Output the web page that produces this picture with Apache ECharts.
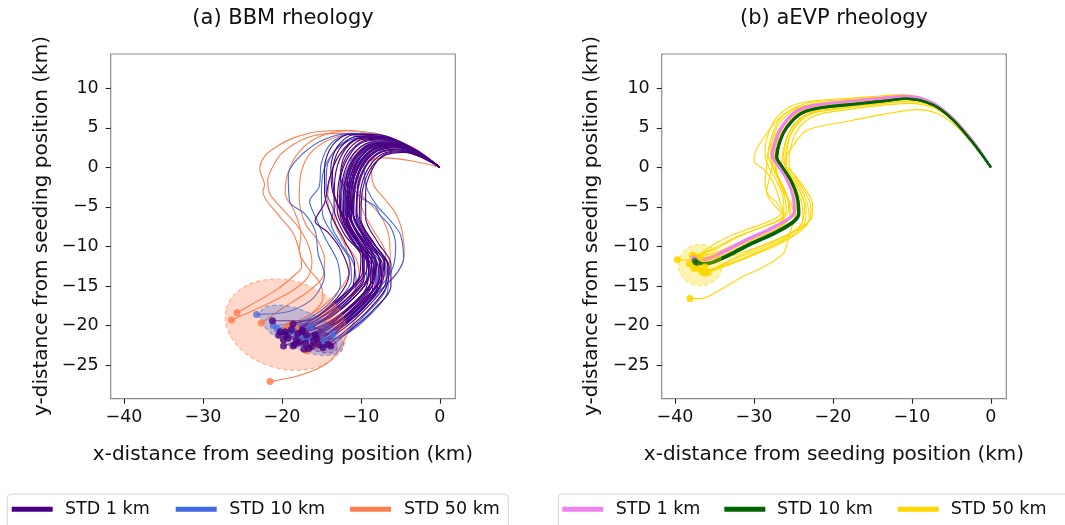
<!DOCTYPE html>
<html>
<head>
<meta charset="utf-8">
<script src="https://cdn.jsdelivr.net/npm/echarts@6/dist/echarts.min.js"></script>
<style>
  html, body { margin: 0; padding: 0; background: #ffffff; }
  #chart { width: 1065px; height: 525px; }
</style>
</head>
<body>
<div id="chart"></div>
<script>
// Axis ticks and extents (km), shared by both panels (equal aspect)
const xTicks = [-40, -30, -20, -10, 0];
const yTicks = [-25, -20, -15, -10, -5, 0, 5, 10];
const xRange = [-41.68, 1.95];
const yRange = [-29.26, 14.34];

const panelTitles = ['(a) BBM rheology', '(b) aEVP rheology'];
const xName = 'x-distance from seeding position (km)';
const yName = 'y-distance from seeding position (km)';
const ensembleNames = ['STD 1 km', 'STD 10 km', 'STD 50 km'];

// BBM drift trajectories, STD 1 km perturbations
const bbmStd1 = [
  [[0,0],[-2.5,1.6],[-5.5,2.8],[-8.2,2.3],[-10,0.5],[-11.2,-2.5],[-11.4,-6],[-9.6,-9.5],[-8,-12],[-8.6,-14.5],[-11.5,-17.8],[-15,-20.6],[-17.8,-22.2]],
  [[0,0],[-2.8,1.9],[-6.2,3.2],[-9,2.8],[-10.9,1],[-12,-2],[-12.2,-5.8],[-10.8,-9],[-9,-11.8],[-9.2,-14.2],[-12,-17.5],[-15.8,-20],[-19.5,-21.2]],
  [[0,0],[-2.4,1.4],[-5,2.3],[-7.5,2],[-9.3,0.4],[-10.4,-2.3],[-10.5,-5.7],[-8.9,-9],[-7,-11.8],[-7.2,-14.3],[-10,-17.6],[-13.5,-20.5],[-16.2,-22.6]],
  [[0,0],[-3,2],[-6.8,3.6],[-9.8,3.3],[-11.8,1.4],[-12.8,-1.8],[-13,-5.5],[-11.5,-8.8],[-9.6,-11.5],[-9.6,-14],[-12.5,-17.2],[-16.5,-19.8],[-20.2,-20.8]],
  [[0,0],[-2.6,1.7],[-5.8,2.9],[-8.6,2.5],[-10.5,0.8],[-11.6,-2.2],[-11.9,-5.9],[-10.3,-9.3],[-8.4,-12.2],[-8.2,-14.8],[-10.8,-18.2],[-14.2,-21],[-16.6,-22.9]],
  [[0,0],[-2.2,1.3],[-4.8,2.1],[-7.3,1.7],[-9,0],[-10,-2.6],[-10.2,-6.2],[-8.4,-9.6],[-6.6,-12.4],[-7,-15],[-9.8,-18.3],[-13,-21],[-15.4,-22.4]],
  [[0,0],[-3.2,2.2],[-7.3,3.9],[-10.3,3.7],[-12.3,1.8],[-13.3,-1.5],[-13.4,-5.2],[-12,-8.6],[-10,-11.2],[-10.2,-13.8],[-13,-16.8],[-16.8,-19.4],[-21.2,-19.4]],
  [[0,0],[-2.7,1.8],[-6,3],[-8.8,2.6],[-10.6,0.9],[-11.7,-2],[-11.7,-6.2],[-9.8,-9.8],[-7.8,-12.6],[-7.9,-15.2],[-10.6,-18.6],[-14,-21.4],[-17.2,-23]],
  [[0,0],[-2.3,1.5],[-5.2,2.5],[-7.8,2.1],[-9.6,0.4],[-10.8,-2.4],[-11.1,-5.4],[-9.9,-8.4],[-8.6,-11],[-8.9,-13.6],[-11.6,-16.8],[-15,-19.3],[-18.8,-20.5]],
  [[0,0],[-2.9,2],[-6.5,3.4],[-9.4,3],[-11.3,1.2],[-12.4,-1.9],[-12.6,-6],[-11,-9.4],[-9,-12],[-8.8,-14.6],[-11.2,-18],[-14.8,-20.6],[-18.2,-21.8]],
  [[0,0],[-2.5,1.6],[-5.6,2.7],[-8.3,2.3],[-10.1,0.6],[-11.1,-2.6],[-11.2,-6.4],[-9.2,-9.7],[-7.3,-12.2],[-7.5,-14.9],[-9.8,-18],[-12.8,-20.6],[-14.8,-22.8]],
  [[0,0],[-2.6,1.7],[-5.9,2.9],[-8.7,2.5],[-10.4,0.7],[-11.4,-2.3],[-11.8,-5.3],[-10.6,-8.2],[-9.1,-10.9],[-9.4,-13.4],[-12.4,-16.6],[-16,-19.2],[-19.8,-21.8]],
  [[0,0],[-2.4,1.5],[-5.3,2.6],[-7.9,2.2],[-9.7,0.5],[-10.7,-2.5],[-10.9,-6.1],[-9,-9.4],[-7.1,-12],[-7.6,-14.5],[-10.4,-17.5],[-13.8,-20],[-16.9,-21.2]],
  [[0,0],[-3,2.1],[-7,3.7],[-10,3.5],[-12,1.6],[-12.6,-1.2],[-11.6,-3.6],[-11.3,-6.4],[-9.7,-9.6],[-8.1,-12.4],[-8.6,-15],[-11.8,-18.2],[-16,-21.5],[-18.6,-22.6]],
  [[0,0],[-2.5,1.7],[-5.7,2.8],[-8.4,2.4],[-10.2,0.6],[-11.3,-2.1],[-11.6,-5.6],[-10,-8.8],[-8.2,-11.5],[-8.4,-14],[-11,-17.2],[-14.5,-19.8],[-17.5,-20.8]],
  [[0,0],[-2.1,1.2],[-4.6,1.9],[-7,1.5],[-8.8,-0.2],[-9.8,-2.9],[-10,-6.5],[-8.2,-9.8],[-6.4,-12.6],[-6.9,-15.4],[-9.6,-18.6],[-12.6,-21.2],[-14.2,-22.4]],
  [[0,0],[-2.8,1.9],[-6.3,3.2],[-9.1,2.9],[-11,1],[-12.1,-2.2],[-12.3,-6.3],[-10.6,-9.9],[-8.6,-12.5],[-8.5,-15.2],[-11,-18.6],[-14.2,-21.2],[-16,-22]],
  [[0,0],[-2.6,1.8],[-5.8,3],[-8.6,2.6],[-10.4,0.8],[-11.5,-2.3],[-11.3,-5],[-11.9,-6.8],[-10.5,-9.4],[-8.7,-11.9],[-8.7,-14.4],[-11.2,-17.4],[-14.8,-20.1],[-18,-21]],
  [[0,0],[-3,2],[-7,3.8],[-10.5,3.6],[-12.8,1.5],[-14,-1.5],[-14.6,-4.5],[-15.8,-6.8],[-14.2,-8.2],[-12.5,-10.5],[-11.5,-13.5],[-13,-16.5],[-16.5,-19.5],[-19.6,-20.8]],
  [[0,0],[-2.7,1.8],[-6.1,3.1],[-9,2.7],[-10.8,0.9],[-11.8,-2],[-12,-5.4],[-10.8,-8.6],[-9.2,-11.4],[-9,-13.8],[-11,-16.6],[-14,-19],[-17.4,-20.6]],
  [[0,0],[-2.5,1.7],[-5.6,2.8],[-8.3,2.4],[-10,0.6],[-11,-2.2],[-11,-5.6],[-9.4,-8.8],[-7.6,-11.6],[-7.4,-14.2],[-9.4,-17.4],[-12.4,-20],[-15.6,-21.6]],
  [[0,0],[-2.9,2],[-6.6,3.5],[-9.7,3.2],[-11.6,1.3],[-12.6,-1.6],[-12.7,-5.2],[-11.4,-8.2],[-9.8,-10.8],[-9.8,-13.2],[-12.2,-16.2],[-15.4,-18.8],[-18.6,-19.8]],
  [[0,0],[-2.4,1.5],[-5.4,2.6],[-8,2.2],[-9.8,0.5],[-10.8,-2.3],[-11,-5.8],[-9.4,-9.2],[-7.5,-12],[-7.8,-14.6],[-10.6,-17.6],[-14,-20.4],[-17,-22.2]],
  [[0,0],[-2.6,1.7],[-5.8,2.9],[-8.6,2.5],[-10.5,0.7],[-11.6,-2.4],[-11.8,-6.1],[-10.2,-9.6],[-8.4,-12.4],[-8.6,-15],[-11.4,-18.4],[-15,-21],[-18.4,-22.4]],
  [[0,0],[-3.1,2.1],[-7.2,3.9],[-11,4.1],[-13,2.6],[-13.8,0],[-13.6,-3],[-12.4,-6],[-10.8,-8.8],[-9.6,-11.6],[-9.9,-14.4],[-12.8,-17.6],[-16.4,-20.4],[-19.2,-21.6]],
  [[0,0],[-2.3,1.3],[-5.1,2.2],[-7.7,1.8],[-9.4,0.1],[-10.4,-2.7],[-10.6,-6],[-9.2,-8.8],[-7.8,-11.2],[-7.6,-13.8],[-9.6,-16.8],[-12.8,-19.6],[-15.8,-21.2]],
  [[0,0],[-3.2,2.3],[-7.5,4.1],[-11.4,4.2],[-13.6,2.8],[-14.6,0],[-14.6,-3.2],[-13.6,-6.4],[-12,-9.4],[-10.8,-12.2],[-11,-15],[-13.8,-18],[-17.6,-20.4],[-20.4,-21.2]],
  [[0,0],[-2.2,1.2],[-4.7,2],[-7.1,1.6],[-8.6,-0.3],[-9.4,-3],[-9.4,-6.4],[-7.8,-9.6],[-6.2,-12.2],[-6.2,-15],[-8.6,-18.2],[-11.6,-20.8],[-13.8,-22.6]],
  [[0,0],[-3,2.1],[-7,3.8],[-10.6,3.9],[-12.8,2.2],[-13.6,-0.8],[-13.2,-4],[-11.6,-7.2],[-10,-10.2],[-9,-13],[-9.6,-15.8],[-12.6,-18.8],[-16.8,-21.4],[-19.8,-22.6]]
];

// BBM drift trajectories, STD 10 km perturbations
const bbmStd10 = [
  [[0,0],[-3,2.2],[-7,4],[-11,4.3],[-14.5,3.6],[-17.5,1.6],[-19.2,-1],[-19,-4.4],[-17.2,-5.8],[-15.8,-8],[-15.4,-11],[-14.6,-13.6],[-16,-16.5],[-19,-18.2],[-23.2,-18.6]],
  [[0,0],[-2.5,1.5],[-5.5,2.5],[-8,2.1],[-9.6,0.2],[-9.3,-2.5],[-8,-4.8],[-6.2,-6.8],[-5,-8.5],[-4.6,-11.5],[-5.6,-13.6],[-8,-16],[-11,-18.8],[-13.6,-21.2]],
  [[0,0],[-2.8,2],[-6.5,3.6],[-10,3.8],[-12.8,2.6],[-14.6,0],[-15,-3.2],[-14.8,-6.2],[-13.2,-9],[-11.5,-11.5],[-11.2,-14.2],[-13.4,-17.2],[-17,-19.6],[-20.6,-20.4]],
  [[0,0],[-2.6,1.7],[-5.9,3],[-8.8,2.7],[-10.8,0.9],[-11.9,-2.1],[-12.1,-5.9],[-10.4,-9.3],[-8.2,-12.3],[-8,-14.9],[-10.6,-18.3],[-14,-20.9],[-16.8,-21.6]],
  [[0,0],[-2.4,1.5],[-5.3,2.6],[-7.9,2.2],[-9.8,0.4],[-10.9,-2.6],[-11,-6.2],[-9.1,-9.4],[-6.9,-12.2],[-6.8,-15],[-9.4,-18.6],[-12.6,-21.4],[-15,-22.6]],
  [[0,0],[-3.1,2.2],[-7.2,4],[-11.5,4.2],[-13.8,3],[-15,0.6],[-15.3,-2.5],[-16.5,-4.3],[-15.7,-6.4],[-14.5,-9],[-13,-11.8],[-12.6,-14.8],[-14.3,-17.5],[-17.8,-19.6],[-21.1,-20]],
  [[0,0],[-2.7,1.8],[-6,3.1],[-9,2.8],[-11,1.1],[-12.2,-1.8],[-12.5,-5.5],[-11,-9],[-9.3,-11.6],[-9.3,-14.2],[-12,-17.4],[-15.6,-19.8],[-18.6,-20.6]],
  [[0,0],[-2.3,1.4],[-5,2.3],[-7.5,1.9],[-9.3,0.2],[-10.3,-2.6],[-10.6,-6.3],[-8.6,-9.8],[-6.5,-12.6],[-6.6,-15.6],[-9,-18.8],[-12.4,-21.4],[-14.6,-21.8]],
  [[0,0],[-3,2.1],[-6.8,3.8],[-10.4,3.9],[-13,2.5],[-14.3,0],[-14.4,-3],[-13.5,-5.5],[-13.8,-7],[-12.6,-9.5],[-11,-12],[-10.6,-14.8],[-12.6,-17.8],[-16.6,-20.2],[-19.4,-20.9]],
  [[0,0],[-2.5,1.6],[-5.6,2.8],[-8.4,2.4],[-10.3,0.6],[-11.3,-2.4],[-11.5,-6],[-9.8,-9.4],[-7.6,-12],[-7.4,-14.8],[-10,-18],[-13.4,-20.6],[-17.2,-21.4]],
  [[0,0],[-2.7,1.9],[-6.2,3.3],[-9.3,3],[-11.2,1.2],[-11.4,-1.5],[-10,-3.8],[-8.2,-4.9],[-7.6,-6],[-6.2,-7.6],[-5.6,-10],[-6,-12.8],[-7.8,-15.4],[-10.8,-18.2],[-14.6,-20.4],[-18,-21.4]],
  [[0,0],[-2.6,1.6],[-5.7,2.7],[-8.5,2.3],[-10.2,0.4],[-11.2,-2.6],[-11.3,-6.4],[-9.5,-9.9],[-7.8,-12.5],[-8,-15.4],[-10.5,-18.6],[-13.4,-20.6],[-16.4,-20.2]]
];

// BBM drift trajectories, STD 50 km perturbations
const bbmStd50 = [
  [[0,0],[-4.2,2.6],[-9.3,4.3],[-11.8,4.7],[-15.6,4.5],[-18.6,3.7],[-20.7,2.6],[-22.2,1.4],[-22.8,-0.3],[-22.2,-2.2],[-22.4,-3.1],[-20.3,-6.2],[-18.6,-8.3],[-17.7,-10.9],[-17.5,-12.6],[-18.6,-13.8],[-20.7,-15.5],[-23.6,-17.2],[-25.7,-18.4]],
  [[0,0],[-4,2.4],[-9,4],[-12.5,4.3],[-16,4],[-18.4,3],[-20.2,1.6],[-21.2,0],[-21.8,-1.6],[-21.5,-3.4],[-20,-5.2],[-18.2,-7.2],[-16.8,-9.5],[-16.2,-12],[-16.8,-14],[-19,-15.8],[-22.5,-17.6],[-26.4,-19.3]],
  [[0,0],[-3,1.8],[-6.5,3],[-9.5,2.6],[-11,0.9],[-11,-1.5],[-9.8,-3.6],[-7.6,-6],[-6.4,-9],[-6.3,-11.6],[-7.4,-14.2],[-9.4,-17],[-11.5,-20.6],[-12.8,-23.1],[-14.3,-24.8],[-17.7,-26.3],[-21.5,-27.1]],
  [[0,0],[-2.2,1.3],[-5,2.4],[-7.5,2],[-8.7,0.4],[-8.4,-2.2],[-7,-4],[-5.6,-5.8],[-4.8,-8],[-4.5,-11],[-5.2,-13],[-7,-15],[-9.6,-17.6],[-12.6,-20.2],[-15.4,-22.8],[-16.8,-23.2]],
  [[0,0],[-3,2.2],[-7,3.8],[-11,4.2],[-14,3.5],[-16.4,1.8],[-17.6,-0.8],[-17.8,-4],[-17,-7.2],[-15.5,-9.2],[-14.6,-11.6],[-14.8,-13.8],[-16.8,-15.8],[-19.6,-17.6],[-22.6,-19.7]],
  [[0,0],[-2.6,1.8],[-6,3.1],[-9,2.9],[-11,1.2],[-12.3,-1.8],[-12.8,-5.4],[-11.6,-8.6],[-9.8,-11.4],[-9.6,-14],[-11.8,-17],[-14.5,-19.6],[-17.4,-21]],
  [[0,0],[-2.9,1.9],[-6.8,3.5],[-10.2,3.5],[-12.4,2],[-13.8,-0.8],[-14.2,-4.2],[-13.2,-7.4],[-11.8,-10.4],[-11.4,-13],[-12.8,-15.6],[-15.4,-18],[-19.4,-20.2]],
  [[0,0],[-3.2,2.4],[-7.6,4.2],[-12,4.6],[-15.4,3.8],[-17.8,2],[-19.2,-0.6],[-19.6,-3.2],[-18.4,-5.6],[-17.6,-8.4],[-17.8,-10.6],[-16.8,-12.6],[-15.2,-14.6],[-14.8,-16.6],[-16.4,-18.6],[-18.8,-19.8]],
  [[0,0],[-2.4,1.4],[-5.3,2.5],[-8,2.1],[-9.8,0.4],[-10.4,-2.4],[-9.8,-5.4],[-8.4,-8],[-7,-10.4],[-6.8,-13],[-8.4,-15.6],[-11,-18.2],[-13.8,-20.8],[-15.6,-22.4]],
  [[0,0],[-3.5,0.8],[-7,1.2],[-9.5,0.6],[-11.4,-0.8],[-12.6,-3],[-13.4,-6],[-12.4,-9],[-10.6,-11.6],[-10.2,-14.2],[-12,-16.8],[-15,-19],[-18.2,-20.4]]
];

// aEVP drift trajectories, STD 1 km perturbations
const evpStd1 = [
  [[0,0],[-2.15,3.15],[-4.8,6.2],[-7.4,8.2],[-10.8,9],[-13.75,8.75],[-17.95,8.35],[-22.3,7.85],[-24.55,7.15],[-26.3,5.4],[-27.2,3.65],[-27.7,1.45],[-27,0.25],[-25.9,-1.45],[-25.1,-3.55],[-24.9,-5.6],[-25.7,-6.55],[-28.1,-7.85],[-31,-9.15],[-33.1,-10.25],[-35.6,-11.45],[-37,-11.65],[-37.65,-11.5]],
  [[0,0],[-2.1,3.1],[-4.75,6.15],[-7.35,8.15],[-10.75,8.95],[-13.7,8.7],[-17.9,8.3],[-22.25,7.8],[-24.45,7.1],[-26.2,5.35],[-27.1,3.6],[-27.6,1.4],[-26.9,0.2],[-25.8,-1.5],[-25,-3.6],[-24.8,-5.65],[-25.6,-6.6],[-28,-7.95],[-30.9,-9.25],[-33,-10.35],[-35.5,-11.55],[-36.95,-11.75],[-37.55,-11.55]],
  [[0,0],[-2.15,3.2],[-4.85,6.25],[-7.45,8.25],[-10.85,9.05],[-13.8,8.8],[-18,8.4],[-22.35,7.9],[-24.6,7.2],[-26.35,5.45],[-27.25,3.7],[-27.75,1.5],[-27.05,0.3],[-25.95,-1.4],[-25.15,-3.5],[-24.95,-5.55],[-25.75,-6.5],[-28.15,-7.8],[-31.05,-9.1],[-33.15,-10.2],[-35.65,-11.4],[-37.05,-11.6],[-37.4,-11.75]]
];

// aEVP drift trajectories, STD 10 km perturbations
const evpStd10 = [
  [[0,0],[-2.2,3.0],[-4.8,6.0],[-7.3,7.9],[-10.7,8.7],[-13.6,8.4],[-17.8,8.0],[-22.1,7.5],[-24.2,6.8],[-25.9,5.1],[-26.7,3.5],[-27.2,1.3],[-26.5,0.1],[-25.4,-1.6],[-24.6,-3.7],[-24.4,-5.8],[-25.2,-6.9],[-27.6,-8.3],[-30.5,-9.6],[-32.6,-10.7],[-35.2,-11.9],[-36.8,-12.1],[-37.5,-11.8]],
  [[0,0],[-2.15,2.95],[-4.75,5.95],[-7.25,7.85],[-10.65,8.65],[-13.55,8.35],[-17.75,7.9],[-22.05,7.4],[-24.1,6.7],[-25.8,5.0],[-26.6,3.4],[-27.05,1.25],[-26.35,0.05],[-25.25,-1.7],[-24.45,-3.8],[-24.25,-5.9],[-25.05,-7.05],[-27.45,-8.45],[-30.35,-9.75],[-32.45,-10.85],[-35.1,-12.05],[-36.7,-12.25],[-37.2,-12.1]],
  [[0,0],[-2.2,3.0],[-4.8,6.0],[-7.3,7.9],[-10.7,8.7],[-13.6,8.4],[-17.8,7.95],[-22.1,7.45],[-24.2,6.75],[-25.85,5.05],[-26.65,3.45],[-27.1,1.3],[-26.4,0.1],[-25.3,-1.65],[-24.5,-3.75],[-24.3,-5.85],[-25.1,-7],[-27.5,-8.4],[-30.4,-9.7],[-32.5,-10.8],[-35.15,-12],[-36.75,-12.2],[-37.4,-12]]
];

// aEVP drift trajectories, STD 50 km perturbations
const evpStd50 = [
  [[0,0],[-2,2.6],[-4.4,5.2],[-6.8,6.8],[-9.4,7.3],[-13.6,6.7],[-18.3,5.8],[-23.3,4.7],[-25,2.8],[-26.1,0.7],[-25.6,-1],[-24.2,-3],[-23.6,-5],[-24.2,-7.5],[-26.6,-9],[-29.4,-10.4],[-32.4,-11.6],[-35,-12.8],[-36.4,-13.1]],
  [[0,0],[-2.3,3.1],[-5,6.2],[-7.6,8.1],[-11,8.9],[-14,8.7],[-18,8.4],[-22,8.1],[-25,7.4],[-27,6],[-28.6,4],[-29.8,2],[-30,0.8],[-28.8,-0.2],[-27.6,-1.8],[-26.8,-4],[-26.2,-6],[-27.2,-7.4],[-29.6,-8.6],[-32.6,-9.8],[-35.6,-11],[-37.7,-11.1]],
  [[0,0],[-2.2,3.1],[-4.9,6.1],[-7.4,8],[-10.8,8.8],[-13.8,8.5],[-18,8.2],[-22.4,7.8],[-24.8,6.9],[-26.6,5],[-27.4,2.8],[-27.6,0.6],[-28,-1.2],[-28.4,-3.2],[-27.4,-4.8],[-26.2,-6.4],[-27.2,-8],[-30,-9.4],[-33,-10.8],[-36.2,-11.6],[-39.7,-11.7]],
  [[0,0],[-2.1,2.9],[-4.7,5.9],[-7.2,7.8],[-10.6,8.6],[-13.5,8.3],[-17.6,7.9],[-21.8,7.3],[-23.8,6.4],[-25.4,4.6],[-26.1,2.6],[-26.3,0.8],[-25,-0.8],[-23.6,-2.6],[-22.6,-4.6],[-22.6,-6.2],[-23.8,-7.4],[-26.4,-8.8],[-29.6,-10.2],[-32.8,-11.6],[-35.8,-13.3]],
  [[0,0],[-2.2,3],[-4.8,6],[-7.3,7.9],[-10.7,8.7],[-13.8,8.5],[-18,8.1],[-22.2,7.6],[-24.4,6.8],[-26,4.8],[-26.8,2.8],[-27,0.9],[-26,-0.8],[-25,-2.8],[-24.6,-5],[-25,-7],[-25.4,-8.1],[-25.7,-9.2],[-26.3,-10.9],[-28.8,-12.6],[-31.4,-13.8],[-34.3,-15.5],[-36.8,-16.6],[-38.1,-16.6]],
  [[0,0],[-2.4,3.2],[-5.1,6.4],[-7.6,8.3],[-11,9.1],[-14,8.9],[-18,8.6],[-22.2,8.3],[-24.8,7.6],[-26.8,6],[-27.8,3.8],[-28.2,1.6],[-27.6,0],[-26.6,-1.8],[-25.8,-3.6],[-25.6,-5.4],[-26.6,-6.6],[-29,-7.6],[-31.8,-8.6],[-34.2,-9.8],[-36.4,-10.8],[-37.8,-11.1]],
  [[0,0],[-2,2.7],[-4.5,5.6],[-7,7.4],[-10.4,8.1],[-13.4,7.9],[-17.4,7.4],[-21.4,6.8],[-23.4,5.9],[-24.8,4.2],[-25.4,2.2],[-25.6,0.4],[-24.8,-1.2],[-23.6,-3],[-22.8,-5],[-22.9,-6.6],[-24.2,-7.8],[-26.8,-9],[-29.8,-10.2],[-32.8,-11.2],[-35.4,-12.2],[-36.2,-12.6]],
  [[0,0],[-2.2,3],[-4.8,6],[-7.3,7.9],[-10.7,8.7],[-13.6,8.5],[-17.8,8.2],[-22.1,7.9],[-24.6,7.4],[-26.6,5.8],[-27.6,3.8],[-27.9,1.8],[-27.6,0.2],[-26.9,-1.4],[-26.2,-3.4],[-25.9,-5.4],[-26.8,-6.6],[-29.4,-7.7],[-32.2,-8.9],[-34.8,-10.3],[-37,-11.2],[-38.2,-12.2]],
  [[0,0],[-2.2,3],[-4.8,6.1],[-7.4,8],[-10.8,8.8],[-13.8,8.5],[-18,8.2],[-22.2,7.7],[-24.4,7],[-26.2,5.3],[-27,3.4],[-27.4,1.2],[-27.2,-0.6],[-26.6,-2.4],[-25.6,-4.2],[-25.4,-6],[-26.2,-7.2],[-28.4,-8.4],[-31.4,-9.6],[-34.2,-10.8],[-36.6,-11.6],[-37.9,-12.2]],
  [[0,0],[-2.2,3.1],[-4.8,6.1],[-7.3,8],[-10.6,8.8],[-13.7,8.6],[-18,8.3],[-22,7.9],[-24.4,7.2],[-26,5.8],[-27.4,4],[-28.2,2],[-28.4,0],[-28.6,-2],[-28.2,-3.4],[-27,-4.6],[-26.2,-6.4],[-26.8,-7.8],[-29,-9],[-32,-10.2],[-35,-11.2],[-36.8,-11.4]],
  [[0,0],[-2.1,2.9],[-4.6,5.8],[-7.1,7.6],[-10.5,8.3],[-13.5,8.1],[-17.6,7.7],[-21.7,7.1],[-23.7,6.2],[-25.2,4.4],[-25.9,2.4],[-26.1,0.5],[-25.2,-1],[-24,-2.8],[-23.2,-4.8],[-23,-6.6],[-24,-8],[-26.6,-9.6],[-29.8,-11],[-32.8,-12.2],[-35.6,-13],[-37,-12.8]],
  [[0,0],[-2.3,3.1],[-5,6.1],[-7.5,8],[-11,8.8],[-14,8.5],[-18.2,8.2],[-22.4,7.8],[-24.6,7],[-26.4,5.2],[-27.2,3.2],[-27.8,1],[-27.4,-0.6],[-26.4,-2.4],[-25.6,-4.4],[-25.4,-6.2],[-26.4,-7.4],[-28.8,-8.6],[-31.6,-9.8],[-34.4,-11],[-36.8,-12.4],[-37.6,-12.8]],
  [[0,0],[-2.2,3],[-4.8,6],[-7.3,7.9],[-10.7,8.6],[-13.6,8.2],[-17.8,7.7],[-22,7.1],[-24,6.3],[-25.5,4.6],[-26.2,2.6],[-26.5,0.6],[-25.7,-0.9],[-24.6,-2.8],[-23.9,-4.8],[-23.8,-6.6],[-24.8,-8],[-27.2,-9.6],[-30.2,-11],[-33.2,-12.2],[-35.8,-13],[-36.6,-13.2]],
  [[0,0],[-2.2,3.1],[-4.9,6.1],[-7.4,8],[-10.8,8.8],[-13.7,8.5],[-17.9,8.1],[-22.2,7.6],[-24.3,6.9],[-26,5.2],[-26.9,3.4],[-27.3,1.2],[-27,-1],[-26.2,-3],[-25.2,-4.8],[-24.9,-6.4],[-25.8,-7.6],[-28.2,-8.8],[-31.2,-10],[-34,-11.2],[-36.6,-12],[-37.4,-12.2]],
  [[0,0],[-2.3,3.3],[-5,6.5],[-7.7,8.4],[-11.2,9.2],[-14.3,9],[-18.4,8.7],[-22.6,8.4],[-25.2,7.8],[-27.2,6.2],[-28.2,4.2],[-28.6,2],[-28.2,0.2],[-27.2,-1.6],[-26.4,-3.4],[-26.2,-5.2],[-27.2,-6.4],[-29.6,-7.4],[-32.4,-8.4],[-34.8,-9.6],[-36.6,-10.8],[-37.2,-11.4]],
  [[0,0],[-2.1,2.9],[-4.7,5.9],[-7.2,7.7],[-10.6,8.4],[-13.6,8.1],[-17.7,7.6],[-21.9,7],[-23.9,6.1],[-25.3,4.3],[-25.8,2.2],[-25.9,0],[-25,-1.6],[-24,-3.4],[-23.4,-5.4],[-23.6,-7],[-24.8,-8.4],[-27.4,-9.8],[-30.4,-11.2],[-33.4,-12.4],[-35.6,-13.2],[-36.2,-13.4]]
];

// Spread ellipses of final positions: [centre x, centre y, semi-axis x, semi-axis y, angle deg]
const bbmSpread1 = [[-16.3, -21.5, 3.6, 1.4, -25]];
const bbmSpread10 = [[-17.5, -20.6, 5.7, 2.4, -24]];
const bbmSpread50 = [[-19.5, -19.9, 7.8, 5.6, -15]];
const evpSpread1 = [[-37.3, -11.9, 0.4, 0.3, 0]];
const evpSpread10 = [[-37.2, -12.0, 0.5, 0.35, 0]];
const evpSpread50 = [[-36.8, -12.35, 2.75, 2.6, 0]];

const colors = {
  bbm1: '#4B0082', bbm10: '#4169E1', bbm50: '#FF7F50',
  evp1: '#EE82EE', evp10: '#006400', evp50: '#FFD700'
};

const FONT = 'DejaVu Sans';
const TEXT = '#111111';

function rgba(hex, a) {
  const n = parseInt(hex.slice(1), 16);
  return 'rgba(' + ((n >> 16) & 255) + ',' + ((n >> 8) & 255) + ',' + (n & 255) + ',' + a + ')';
}
function fmt(v) { return (v < 0 ? '\u2212' : '') + Math.abs(v); }

const chart = echarts.init(document.getElementById('chart'), null, { renderer: 'canvas' });

const grids = [
  { left: 110.7, top: 54, width: 344.6, height: 344.7 },
  { left: 661.7, top: 54, width: 344.6, height: 344.7 }
].map(g => Object.assign(g, { show: true, borderColor: '#8c8c8c', borderWidth: 1.2, backgroundColor: 'transparent', containLabel: false }));

function xAxisFor(i) {
  return {
    gridIndex: i, type: 'value', min: xRange[0], max: xRange[1], position: 'bottom',
    splitLine: { show: false }, axisLine: { show: false, onZero: false },
    axisTick: { show: true, customValues: xTicks, length: 5, lineStyle: { color: '#222', width: 1.1 } },
    axisLabel: { customValues: xTicks, formatter: fmt, fontSize: 17.5, fontFamily: FONT, color: TEXT, margin: 10 }
  };
}
function yAxisFor(i) {
  return {
    gridIndex: i, type: 'value', min: yRange[0], max: yRange[1], position: 'left',
    splitLine: { show: false }, axisLine: { show: false, onZero: false },
    axisTick: { show: true, customValues: yTicks, length: 5, lineStyle: { color: '#222', width: 1.1 } },
    axisLabel: { customValues: yTicks, formatter: fmt, fontSize: 17.5, fontFamily: FONT, color: TEXT, margin: 12 }
  };
}

function trackSeries(g, tracks, color, width, z) {
  return tracks.map(t => ({
    type: 'line', xAxisIndex: g, yAxisIndex: g, data: t,
    symbol: 'none', smooth: 0.3, silent: true, z: z,
    lineStyle: { color: color, width: width }
  }));
}
function endSeries(g, tracks, color, size, op, z) {
  return {
    type: 'scatter', xAxisIndex: g, yAxisIndex: g, silent: true, z: z,
    data: tracks.map(t => t[t.length - 1]), symbolSize: size,
    itemStyle: { color: color, opacity: op }
  };
}
function spreadSeries(g, list, color, fillA, strokeA, z) {
  return {
    type: 'custom', xAxisIndex: g, yAxisIndex: g, silent: true, z: z, data: list,
    renderItem: function (params, api) {
      const c = api.coord([api.value(0), api.value(1)]);
      const s = api.size([api.value(2), api.value(3)]);
      return {
        type: 'ellipse', x: c[0], y: c[1], rotation: api.value(4) * Math.PI / 180,
        shape: { cx: 0, cy: 0, rx: s[0], ry: s[1] },
        style: { fill: rgba(color, fillA), stroke: rgba(color, strokeA), lineWidth: 1.3, lineDash: [4, 3] }
      };
    }
  };
}

const series = [].concat(
  trackSeries(0, bbmStd50, colors.bbm50, 1.1, 2),
  trackSeries(0, bbmStd10, colors.bbm10, 1.1, 3),
  trackSeries(0, bbmStd1, colors.bbm1, 1.1, 4),
  [spreadSeries(0, bbmSpread50, colors.bbm50, 0.3, 0.5, 5),
   spreadSeries(0, bbmSpread10, colors.bbm10, 0.3, 0.5, 6),
   spreadSeries(0, bbmSpread1, colors.bbm1, 0.2, 0.35, 7),
   endSeries(0, bbmStd50, colors.bbm50, 7, 0.85, 8),
   endSeries(0, bbmStd10, colors.bbm10, 7, 0.75, 8),
   endSeries(0, bbmStd1, colors.bbm1, 7, 0.8, 8)],
  trackSeries(1, evpStd50, colors.evp50, 1.1, 2),
  trackSeries(1, evpStd1, colors.evp1, 2, 3),
  trackSeries(1, evpStd10, colors.evp10, 2.2, 4),
  [spreadSeries(1, evpSpread50, colors.evp50, 0.3, 0.5, 5),
   spreadSeries(1, evpSpread1, colors.evp1, 0.3, 0.5, 6),
   spreadSeries(1, evpSpread10, colors.evp10, 0.3, 0.5, 6),
   endSeries(1, evpStd50, colors.evp50, 7, 0.9, 8),
   endSeries(1, evpStd1, colors.evp1, 6, 0.6, 8),
   endSeries(1, evpStd10, colors.evp10, 6, 0.6, 8)]
);

// Titles, axis names and the two legend boxes
const graphics = [];
const centres = [283, 834];
const yNameX = [42, 592];
centres.forEach((cx, i) => {
  graphics.push({ type: 'text', x: cx, y: 19, style: { text: panelTitles[i], font: '21px "' + FONT + '"', fill: TEXT, align: 'center', verticalAlign: 'middle' } });
  graphics.push({ type: 'text', x: cx, y: 455, style: { text: xName, font: '20px "' + FONT + '"', fill: TEXT, align: 'center', verticalAlign: 'middle' } });
  graphics.push({ type: 'text', x: yNameX[i], y: 226, rotation: Math.PI / 2, style: { text: yName, font: '20px "' + FONT + '"', fill: TEXT, align: 'center', verticalAlign: 'middle' } });
});

const legends = [
  { box: [7.3, 494, 501], lines: [11.7, 175.7, 350], texts: [65, 229.3, 404], cols: [colors.bbm1, colors.bbm10, colors.bbm50] },
  { box: [558.3, 494, 520], lines: [562.3, 724.3, 897.7], texts: [615.7, 777, 950.7], cols: [colors.evp1, colors.evp10, colors.evp50] }
];
legends.forEach(L => {
  graphics.push({ type: 'rect', shape: { x: L.box[0], y: L.box[1], width: L.box[2], height: 45, r: 4 }, style: { fill: '#ffffff', stroke: '#d6d6d6', lineWidth: 1 } });
  ensembleNames.forEach((nm, k) => {
    graphics.push({ type: 'rect', shape: { x: L.lines[k], y: 506.8, width: 41, height: 5 }, style: { fill: L.cols[k] } });
    graphics.push({ type: 'text', x: L.texts[k], y: 509.5, style: { text: nm, font: '17.5px "' + FONT + '"', fill: TEXT, align: 'left', verticalAlign: 'middle' } });
  });
});

chart.setOption({
  animation: false,
  backgroundColor: '#ffffff',
  grid: grids,
  xAxis: [xAxisFor(0), xAxisFor(1)],
  yAxis: [yAxisFor(0), yAxisFor(1)],
  series: series,
  graphic: graphics
});
</script>
</body>
</html>
